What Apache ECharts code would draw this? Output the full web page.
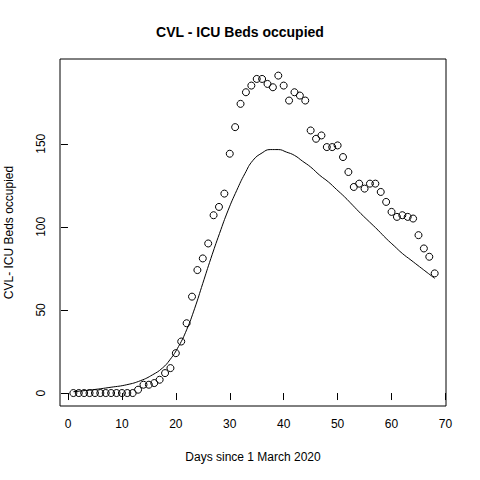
<!DOCTYPE html>
<html>
<head>
<meta charset="utf-8">
<script src="https://cdn.jsdelivr.net/npm/echarts@6/dist/echarts.min.js"></script>
<style>html,body{margin:0;background:#fff}#c{width:480px;height:480px}</style>
</head>
<body>
<div id="c"></div>
<script>
const days = Array.from({length: 68}, (_, i) => i + 1);
const occupied = [
  0, 0, 0, 0, 0, 0, 0, 0, 0, 0, 0, 0, 2, 5, 5, 6, 8, 12, 15, 24,
  31, 42, 58, 74, 81, 90, 107, 112, 120, 144, 160, 174, 181, 185, 189, 189, 186, 184, 191, 185,
  176, 181, 179, 176, 158, 153, 155, 148, 148, 149, 142, 133, 124, 126, 123, 126, 126, 121, 115, 109,
  106, 107, 106, 105, 95, 87, 82, 72,
];
const curveDays = [1, 4.6, 8, 10.9, 13.5, 15.7, 17.5, 18.9, 20.5, 22, 23.5, 25, 26.5, 28.1, 29.7, 31.3, 32.8, 34.3, 36, 37.5, 39, 40.5, 42, 43.5, 45, 46.7, 48.3, 49.8, 51.3, 52.8, 54.3, 55.9, 57.5, 59, 60.5, 62, 63.6, 65.2, 66.6, 68];
const curveValues = [0.8, 2, 3.5, 5, 7.5, 11, 15, 20, 28, 38, 51, 66, 81, 96, 110, 122, 132, 140, 144.5, 146.5, 146.5, 145, 143, 139.5, 136, 131, 127, 122.5, 118, 113, 108, 103, 98, 93, 88.5, 84, 80, 76, 72.5, 69];
const xTicks = [0, 10, 20, 30, 40, 50, 60, 70];
const yTicks = [0, 50, 100, 150];

const font = 'Liberation Sans, Arial, sans-serif';
const chart = echarts.init(document.getElementById('c'), null, {renderer: 'svg'});
chart.setOption({
  animation: false,
  title: {
    text: 'CVL - ICU Beds occupied', left: 'center', top: 20,
    textStyle: {fontFamily: font, fontSize: 14, fontWeight: 'bold', color: '#000'},
  },
  grid: {
    left: 60, right: 34, top: 59, bottom: 74, show: true,
    borderColor: '#000', borderWidth: 1, outerBoundsMode: 'none', containLabel: false,
  },
  xAxis: {
    type: 'value', min: -1.48, max: 70.1, offset: 1,
    name: 'Days since 1 March 2020', nameLocation: 'middle', nameGap: 44,
    nameTextStyle: {fontFamily: font, fontSize: 12, color: '#000'},
    axisLine: {show: false}, splitLine: {show: false},
    axisTick: {show: true, customValues: xTicks, length: 7, lineStyle: {color: '#000'}},
    axisLabel: {customValues: xTicks, fontFamily: font, fontSize: 12, color: '#000', margin: 11},
  },
  yAxis: {
    type: 'value', min: -7.8, max: 201, offset: 1,
    name: 'CVL- ICU Beds occupied', nameLocation: 'middle', nameGap: 44,
    nameTextStyle: {fontFamily: font, fontSize: 12, color: '#000'},
    axisLine: {show: false}, splitLine: {show: false},
    axisTick: {show: true, customValues: yTicks, length: 7, lineStyle: {color: '#000'}},
    axisLabel: {customValues: yTicks, rotate: 90, fontFamily: font, fontSize: 12, color: '#000', margin: 12},
  },
  series: [
    {
      type: 'line', smooth: true, showSymbol: false, silent: true,
      lineStyle: {color: '#000', width: 1},
      data: curveDays.map((d, i) => [d, curveValues[i]]),
    },
    {
      type: 'scatter', symbol: 'circle', symbolSize: 7, z: 5,
      itemStyle: {color: 'rgba(0,0,0,0)', borderColor: '#000', borderWidth: 1, opacity: 1},
      data: days.map((d, i) => [d, occupied[i]]),
    },
  ],
});
</script>
</body>
</html>
